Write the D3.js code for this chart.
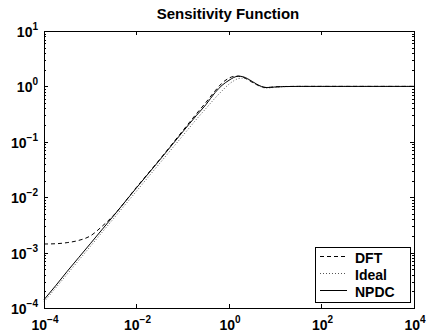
<!DOCTYPE html>
<html>
<head>
<meta charset="utf-8">
<script src="https://cdn.jsdelivr.net/npm/d3@7"></script>
<style>
	body { margin: 0; background: #fff; }
	text { font-family: "Liberation Sans", Arial, sans-serif; font-weight: bold; fill: #000; }
</style>
</head>
<body>
<div id="chart"></div>
<script>
//	frequency grid (log10) and magnitudes (log10)
const logFreq = [-4, -3.75, -3.5, -3.25, -3, -2.75, -2.5, -2, -1.5, -1, -0.7, -0.5, -0.3, -0.15,
	0, 0.1, 0.2, 0.3, 0.4, 0.5, 0.6, 0.7, 0.8, 0.9, 1.0, 1.2, 1.5, 2, 3, 4];
const dftLog = [-2.845, -2.84, -2.82, -2.78, -2.70, -2.53, -2.33, -1.82, -1.32, -0.80, -0.49, -0.29, -0.08, 0.06,
	0.15, 0.18, 0.185, 0.165, 0.125, 0.075, 0.03, -0.005, -0.02, -0.015, -0.008, -0.002, 0, 0, 0, 0];
const idealLog = [-3.89, -3.64, -3.39, -3.14, -2.89, -2.64, -2.39, -1.89, -1.39, -0.89, -0.59, -0.40, -0.21, -0.08,
	0.04, 0.10, 0.14, 0.15, 0.13, 0.08, 0.03, -0.01, -0.03, -0.025, -0.015, -0.005, 0, 0, 0, 0];
const npdcLog = [-3.85, -3.6, -3.34, -3.09, -2.84, -2.59, -2.34, -1.83, -1.33, -0.82, -0.52, -0.33, -0.11, 0.02,
	0.11, 0.16, 0.185, 0.175, 0.14, 0.09, 0.04, 0.0, -0.02, -0.018, -0.01, -0.003, 0, 0, 0, 0];

const xTickExp = [-4, -2, 0, 2, 4];
const yTickExp = [-4, -3, -2, -1, 0, 1];
const seriesNames = ['DFT', 'Ideal', 'NPDC'];
const seriesDash = ['4,3', '1,2', null];
const seriesColor = ['#000', '#555', '#000'];
const seriesData = [dftLog, idealLog, npdcLog];

const width = 426, height = 336;
const plotLeft = 44, plotRight = 414, plotTop = 31, plotBottom = 308;

const svg = d3.select('#chart')
	.append('svg')
	.attr('width', width)
	.attr('height', height);

const x = d3.scaleLog().domain([1e-4, 1e4]).range([plotLeft, plotRight]);
const y = d3.scaleLog().domain([1e-4, 1e1]).range([plotBottom, plotTop]);

//	曲线
const line = d3.line()
	.x(d => x(10 ** d[0]))
	.y(d => y(10 ** d[1]))
	.curve(d3.curveMonotoneX);

svg.append('g')
	.selectAll('path')
	.data(seriesData)
	.enter()
	.append('path')
	.attr('d', d => line(logFreq.map((f, i) => [f, d[i]])))
	.attr('fill', 'none')
	.attr('stroke', (d, i) => seriesColor[i])
	.attr('stroke-width', 1)
	.attr('stroke-dasharray', (d, i) => seriesDash[i]);

//	边框
svg.append('rect')
	.attr('x', plotLeft + 0.5)
	.attr('y', plotTop + 0.5)
	.attr('width', plotRight - plotLeft)
	.attr('height', plotBottom - plotTop)
	.attr('fill', 'none')
	.attr('stroke', '#000')
	.attr('stroke-width', 1);

//	刻度
const ticks = svg.append('g').attr('stroke', '#000').attr('stroke-width', 1);
xTickExp.forEach(e => {
	const px = Math.round(x(10 ** e)) + 0.5;
	ticks.append('line').attr('x1', px).attr('x2', px).attr('y1', plotBottom).attr('y2', plotBottom - 4);
	ticks.append('line').attr('x1', px).attr('x2', px).attr('y1', plotTop).attr('y2', plotTop + 4);
});
yTickExp.forEach(e => {
	const py = Math.round(y(10 ** e)) + 0.5;
	ticks.append('line').attr('x1', plotLeft).attr('x2', plotLeft + 4).attr('y1', py).attr('y2', py);
	ticks.append('line').attr('x1', plotRight).attr('x2', plotRight - 4).attr('y1', py).attr('y2', py);
	if (e < 1) {
		for (let m = 2; m <= 9; m++) {
			const my = Math.round(y(m * 10 ** e)) + 0.5;
			ticks.append('line').attr('x1', plotLeft).attr('x2', plotLeft + 2).attr('y1', my).attr('y2', my);
			ticks.append('line').attr('x1', plotRight).attr('x2', plotRight - 2).attr('y1', my).attr('y2', my);
		}
	}
});

//	刻度标签
const powLabel = (g, e) => {
	g.append('tspan').attr('font-size', 14).text('10');
	g.append('tspan').attr('font-size', 10).attr('dy', -7).text(e < 0 ? '\u2212' + (-e) : String(e));
};
xTickExp.forEach(e => {
	const t = svg.append('text')
		.attr('x', x(10 ** e) + 1)
		.attr('y', 330)
		.attr('text-anchor', 'middle');
	powLabel(t, e);
});
yTickExp.forEach(e => {
	const t = svg.append('text')
		.attr('x', 38)
		.attr('y', y(10 ** e) + 6)
		.attr('text-anchor', 'end');
	powLabel(t, e);
});

//	标题
svg.append('text')
	.attr('x', 228)
	.attr('y', 19)
	.attr('text-anchor', 'middle')
	.attr('font-size', 15)
	.text('Sensitivity Function');

//	图例
const legend = svg.append('g');
legend.append('rect')
	.attr('x', 315.5)
	.attr('y', 247.5)
	.attr('width', 95)
	.attr('height', 55)
	.attr('fill', '#fff')
	.attr('stroke', '#000');
seriesNames.forEach((name, i) => {
	const ly = 256.5 + i * 17;
	legend.append('line')
		.attr('x1', 320).attr('x2', 347)
		.attr('y1', ly).attr('y2', ly)
		.attr('stroke', seriesColor[i])
		.attr('stroke-dasharray', seriesDash[i]);
	legend.append('text')
		.attr('x', 355)
		.attr('y', ly + 6)
		.attr('font-size', 14)
		.text(name);
});
</script>
</body>
</html>
